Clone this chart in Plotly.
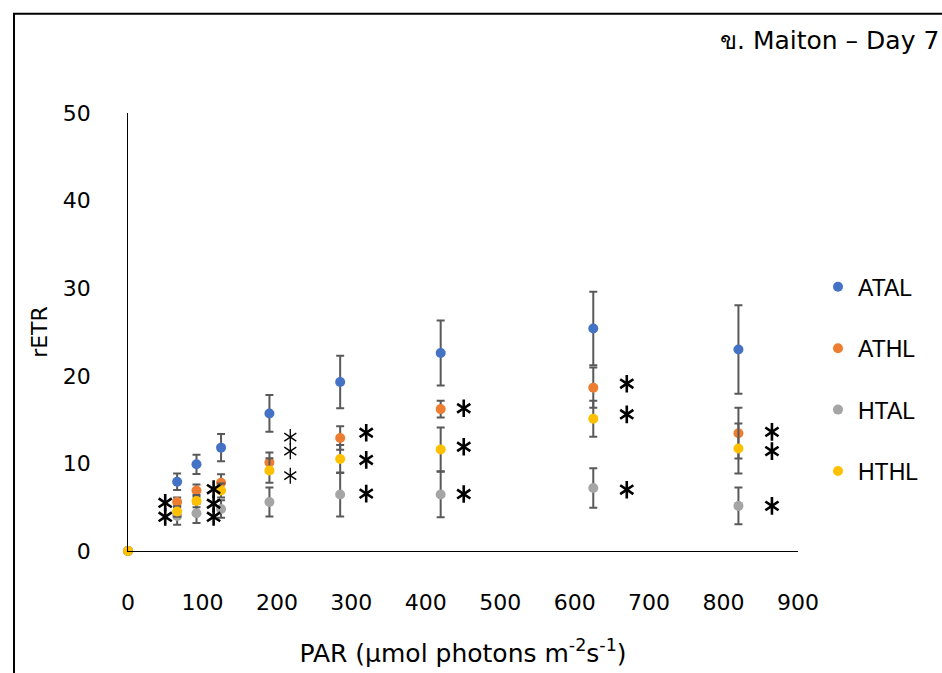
import plotly.graph_objects as go

PAR = [0, 66, 92, 125, 190, 285, 420, 625, 820]
ATAL = [0, 7.9, 9.9, 11.8, 15.7, 19.3, 22.6, 25.4, 23.0]
ATAL_err = [0, 0.95, 1.1, 1.55, 2.1, 3.0, 3.7, 4.2, 5.05]
ATHL = [0, 5.6, 6.9, 7.8, 10.1, 12.9, 16.2, 18.65, 13.45]
ATHL_err = [0, 0.5, 0.7, 0.95, 1.15, 1.35, 0.95, 2.3, 2.9]
HTAL = [0, 4.0, 4.3, 4.8, 5.6, 6.45, 6.45, 7.2, 5.15]
HTAL_err = [0, 1.0, 1.1, 1.0, 1.65, 2.5, 2.6, 2.25, 2.1]
HTHL = [0, 4.5, 5.7, 6.9, 9.2, 10.5, 11.6, 15.1, 11.7]
HTHL_err = [0, 0.6, 0.7, 0.8, 1.4, 1.6, 2.5, 2.06, 2.85]

series_names = ["ATAL", "ATHL", "HTAL", "HTHL"]
series_vals = [ATAL, ATHL, HTAL, HTHL]
series_errs = [ATAL_err, ATHL_err, HTAL_err, HTHL_err]
series_colors = ["#4472C4", "#ED7D31", "#A5A5A5", "#FFC000"]

# significance asterisk positions (bold and light)
star_x = [50, 50, 115, 115, 115, 320, 320, 320, 451, 451, 451, 670, 670, 670, 865, 865, 865]
star_y = [5.5, 3.9, 7.06, 5.4, 3.9, 13.5, 10.4, 6.55, 16.3, 11.9, 6.5, 19.1, 15.6, 7.0, 13.6, 11.4, 5.15]
light_star_x = [218, 218, 218]
light_star_y = [13.0, 11.4, 8.6]

title_text = "ข. Maiton – Day 7"
x_title = "PAR (µmol photons m<sup>-2</sup>s<sup>-1</sup>)"
y_title = "rETR"
x_ticks = [0, 100, 200, 300, 400, 500, 600, 700, 800, 900]
y_ticks = [0, 10, 20, 30, 40, 50]

fig = go.Figure()
for name, vals, errs, col in zip(series_names, series_vals, series_errs, series_colors):
    fig.add_trace(go.Scatter(
        x=PAR, y=vals, mode="markers", name=name, legendgroup=name,
        marker=dict(color=col, size=10),
        error_y=dict(type="data", array=errs, visible=True, color="#595959", thickness=2, width=4),
        cliponaxis=False,
    ))

for sym in ["y-up-open", "y-down-open"]:
    fig.add_trace(go.Scatter(
        x=star_x, y=star_y, mode="markers", showlegend=False, hoverinfo="skip",
        marker=dict(symbol=sym, size=11, color="black", line=dict(color="black", width=2.6)),
        cliponaxis=False,
    ))
    fig.add_trace(go.Scatter(
        x=light_star_x, y=light_star_y, mode="markers", showlegend=False, hoverinfo="skip",
        marker=dict(symbol=sym, size=10, color="black", line=dict(color="black", width=1.3)),
        cliponaxis=False,
    ))

fig.update_layout(
    width=942, height=673,
    margin=dict(l=128, r=144, t=113, b=122),
    paper_bgcolor="white", plot_bgcolor="white",
    font=dict(family="DejaVu Sans, sans-serif", color="black"),
    showlegend=True,
    legend=dict(x=(818 - 128) / 670, y=(550 - 265) / 437, xanchor="left", yanchor="top",
                font=dict(family="Liberation Sans, Arial, sans-serif", size=23, color="black"),
                tracegroupgap=28.5, itemwidth=30, bgcolor="rgba(0,0,0,0)"),
    xaxis=dict(range=[0, 900], tickvals=x_ticks, showgrid=False, zeroline=False,
               showline=True, linecolor="black", linewidth=1.3, ticks="",
               ticklabelstandoff=31, tickfont=dict(size=22),
               title=dict(text=x_title, font=dict(size=25), standoff=30)),
    yaxis=dict(range=[0, 50], tickvals=y_ticks, showgrid=False, zeroline=False,
               showline=True, linecolor="black", linewidth=0.8, ticks="",
               ticklabelstandoff=32, tickfont=dict(size=22),
               title=dict(text=y_title, font=dict(size=22), standoff=9)),
    annotations=[dict(text=title_text, xref="paper", yref="paper",
                      x=(941 - 128) / 670, y=(550 - 41) / 437, xanchor="right", yanchor="middle",
                      showarrow=False, font=dict(size=25, family="DejaVu Sans, sans-serif"))],
    shapes=[dict(type="rect", xref="paper", yref="paper",
                 x0=(14 - 128) / 670, x1=(960 - 128) / 670,
                 y0=(550 - 700) / 437, y1=(550 - 14) / 437,
                 line=dict(color="black", width=2), fillcolor="rgba(0,0,0,0)", layer="below")],
)

fig.write_html("out.html")
